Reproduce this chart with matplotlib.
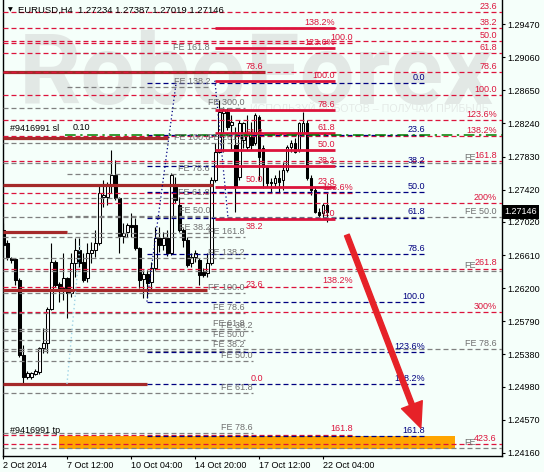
import matplotlib
matplotlib.use("Agg")
import matplotlib.pyplot as plt
from matplotlib.patches import Rectangle

plt.rcParams['font.family'] = ['Liberation Sans', 'DejaVu Sans']

# EURUSD H4 candles
opens = [1.2692, 1.2676, 1.2657, 1.2656, 1.2630, 1.2537, 1.2510, 1.2510, 1.2514, 1.2516,
         1.2546, 1.2552, 1.2594, 1.2652, 1.2625, 1.2620, 1.2633, 1.2614, 1.2651, 1.2667,
         1.2652, 1.2633, 1.2664, 1.2667, 1.2676, 1.2733, 1.2733, 1.2748, 1.2760, 1.2732,
         1.2685, 1.2690, 1.2698, 1.2698, 1.2670, 1.2631, 1.2637, 1.2628, 1.2645, 1.2682,
         1.2673, 1.2682, 1.2664, 1.2745, 1.2723, 1.2692, 1.2680, 1.2651, 1.2659, 1.2655,
         1.2640, 1.2639, 1.2651, 1.2754, 1.2789, 1.2837, 1.2838, 1.2822, 1.2797, 1.2758,
         1.2804, 1.2795, 1.2807, 1.2800, 1.2832, 1.2794, 1.2770, 1.2752, 1.2750, 1.2757,
         1.2754, 1.2766, 1.2795, 1.2800, 1.2791, 1.2812, 1.2825, 1.2757, 1.2742, 1.2714,
         1.2713, 1.27234]
highs = [1.2701, 1.2680, 1.2659, 1.2657, 1.2633, 1.2550, 1.2517, 1.2516, 1.2520, 1.2547,
         1.2571, 1.2596, 1.2676, 1.2655, 1.2628, 1.2663, 1.2634, 1.2663, 1.2682, 1.2682,
         1.2663, 1.2676, 1.2677, 1.2692, 1.2748, 1.2754, 1.2752, 1.2791, 1.2779, 1.2733,
         1.2701, 1.2701, 1.2713, 1.2707, 1.2671, 1.2642, 1.2642, 1.2652, 1.2696, 1.2696,
         1.2690, 1.2692, 1.2763, 1.2758, 1.2733, 1.2694, 1.2683, 1.2663, 1.2667, 1.2657,
         1.2645, 1.2664, 1.2758, 1.2800, 1.2853, 1.2844, 1.2843, 1.2834, 1.2820, 1.2828,
         1.2826, 1.2834, 1.2826, 1.2837, 1.2834, 1.2797, 1.2773, 1.2757, 1.2760, 1.2766,
         1.2776, 1.2797, 1.2804, 1.2806, 1.2826, 1.2838, 1.2828, 1.2760, 1.2745, 1.2719,
         1.2725, 1.27387]
lows = [1.2667, 1.2655, 1.2651, 1.2624, 1.2535, 1.2500, 1.2507, 1.2507, 1.2512, 1.2514,
        1.2540, 1.2540, 1.2593, 1.2621, 1.2603, 1.2605, 1.2583, 1.2609, 1.2634, 1.2646,
        1.2628, 1.2628, 1.2651, 1.2659, 1.2673, 1.2721, 1.2723, 1.2738, 1.2729, 1.2664,
        1.2676, 1.2683, 1.2683, 1.2667, 1.2620, 1.2608, 1.2608, 1.2618, 1.2643, 1.2665,
        1.2667, 1.2660, 1.2661, 1.2726, 1.2690, 1.2671, 1.2646, 1.2646, 1.2652, 1.2624,
        1.2634, 1.2634, 1.2649, 1.2752, 1.2787, 1.2789, 1.2816, 1.2791, 1.2714, 1.2754,
        1.2794, 1.2791, 1.2791, 1.2797, 1.2754, 1.2744, 1.2745, 1.2738, 1.2745, 1.2738,
        1.2742, 1.2764, 1.2789, 1.2787, 1.2789, 1.2810, 1.2754, 1.2735, 1.2713, 1.2708,
        1.2707, 1.27019]
closes = [1.2673, 1.2659, 1.2655, 1.2630, 1.2537, 1.2510, 1.2515, 1.2515, 1.2517, 1.2546,
          1.2552, 1.2594, 1.2652, 1.2624, 1.2620, 1.2633, 1.2614, 1.2651, 1.2667, 1.2651,
          1.2630, 1.2664, 1.2667, 1.2676, 1.2738, 1.2735, 1.2748, 1.2760, 1.2732, 1.2685,
          1.2688, 1.2698, 1.2696, 1.2670, 1.2630, 1.2637, 1.2626, 1.2645, 1.2682, 1.2673,
          1.2682, 1.2664, 1.2760, 1.2729, 1.2692, 1.2680, 1.2649, 1.2659, 1.2664, 1.2636,
          1.2636, 1.2651, 1.2754, 1.2789, 1.2838, 1.2841, 1.2820, 1.2826, 1.2745, 1.2825,
          1.2825, 1.2812, 1.2797, 1.2834, 1.2782, 1.2770, 1.2750, 1.2750, 1.2757, 1.2752,
          1.2766, 1.2795, 1.2800, 1.2789, 1.2825, 1.2825, 1.2757, 1.2742, 1.2714, 1.2711,
          1.2723, 1.27146]

date_ticks = [0, 16, 32, 48, 64, 80]
date_labels = ["2 Oct 2014", "7 Oct 12:00", "10 Oct 04:00", "14 Oct 20:00",
               "17 Oct 12:00", "22 Oct 04:00"]
price_ticks = [1.29470, 1.29060, 1.28650, 1.28240, 1.27830, 1.27420, 1.27020,
               1.26610, 1.26200, 1.25790, 1.25380, 1.24980, 1.24570, 1.24160]

# crimson dashed fibo across the whole chart
fibo_a = [1.29625, 1.29427, 1.29266, 1.29110, 1.28882, 1.28593, 1.28277, 1.28079,
          1.27769, 1.27249, 1.26443, 1.25904, 1.24269]
fibo_a_txt = ["23.6", "38.2", "50.0", "61.8", "78.6", "100.0", "123.6%", "138.2%",
              "161.8", "200%", "261.8", "300%", "423.6"]
# gray FE levels on the right side
fe_right = [1.27755, 1.27081, 1.26412, 1.25446, 1.24219]
fe_right_txt = ["FE", "FE 50.0", "FE", "FE 78.6", "FE"]
# crimson dashed, second set
fibo_g = [1.29241, 1.27382, 1.26220, 1.24386]
fibo_g_txt = ["100.0", "123.6%", "138.2%", "161.8"]
# crimson solid, short retracement
fibo_c = [1.29427, 1.29175, 1.28770, 1.28403, 1.28116, 1.27912, 1.27713, 1.27453, 1.27057]
fibo_c_txt = ["138.2%", "123.6%", "100.0", "78.6", "61.8", "50.0", "38.2", "23.6", "0.0"]
# navy dashed retracement
fibo_d = [1.28745, 1.28101, 1.27713, 1.27391, 1.27075, 1.26617, 1.26032, 1.25403,
          1.25007, 1.24368]
fibo_d_txt = ["0.0", "23.6", "38.2", "50.0", "61.8", "78.6", "100.0", "123.6%",
              "138.2%", "161.8"]
# dark red solid levels
fibo_b = [1.28878, 1.28060, 1.27472, 1.26892, 1.26173, 1.25012]
fibo_b_txt = ["78.6", "61.8", "50.0", "38.2", "23.6", "0.0"]
fibo_b_end = [65.4, 41.2, 52.4, 15.9, 50.9, 35.9]
# gray FE expansions
fe_1 = [1.29113, 1.28688, 1.27998, 1.27608, 1.27311, 1.27094, 1.26883]
fe_1_txt = ["FE 161.8", "FE 138.2", "FE 100.0", "FE 78.6", "FE 61.8", "FE 50.0", "FE 38.2"]
fe_2 = [1.28436, 1.27998, 1.26834, 1.26573, 1.26140, 1.25896, 1.25694, 1.25557, 1.25427]
fe_2_txt = ["FE 300,0", "FE 261.8", "FE 161.8", "FE 138.2", "FE 100.0", "FE 78.6",
            "FE 61.8", "FE 50.0", "FE 38.2"]
fe_4 = [1.25669, 1.25297, 1.24901, 1.24399]
fe_4_txt = ["FE 38.2", "FE 50.0", "FE 61.8", "FE 78.6"]

order_price = 1.28101
tp_zone = (1.24201, 1.24362)

BG = '#f5fffa'
CRIMSON = '#dc143c'
DARKRED = '#a52a2a'
NAVY = '#000080'
GRAY = '#808080'
DASH = (0, (4, 2.4))
FS = 6.5
XL, XR = -0.1, 124.7

fig = plt.figure(figsize=(5.44, 4.72), dpi=100, facecolor=BG)
ax = fig.add_axes([3 / 544, 16 / 472, 499 / 544, 456 / 472])
ax.set_facecolor(BG)
ax.set_xlim(XL, XR)
ax.set_ylim(1.24120, 1.29770)

# watermark
wm = ax.text(0.508, 0.772, 'RoboForex', transform=ax.transAxes, ha='center',
             va='baseline', fontsize=70, fontweight='bold', family='Roboto',
             color='#e2e8e5', zorder=0.5)
sub = ax.text(0.735, 0.762, 'ИСПОЛЬЗУЙ РОБОТОВ – ПОЛУЧАЙ ПРИБЫЛЬ', transform=ax.transAxes,
              ha='center', va='center', fontsize=8, color='#e4eae7', zorder=0.6)
fig.canvas.draw()
wm.set_fontsize(70 * 475 / wm.get_window_extent().width)
sub.set_fontsize(8 * 238 / sub.get_window_extent().width)

# candles
for i, (o, h, l, c) in enumerate(zip(opens, highs, lows, closes)):
    ax.vlines(i, l, h, color='black', lw=0.8, zorder=2)
    lo, hi = min(o, c), max(o, c)
    if hi - lo < 0.00004:
        hi = lo + 0.00004
    ax.add_patch(Rectangle((i - 0.3, lo), 0.6, hi - lo, lw=0.75, edgecolor='black',
                           facecolor='white' if c >= o else 'black', zorder=2.1))


def levels(prices, texts, x0, x1, color, ls, lw, tcolor=None, tx=None, z=3):
    if not isinstance(x1, list):
        x1 = [x1] * len(prices)
    for p, t, e in zip(prices, texts, x1):
        ax.plot([x0, e], [p, p], color=color, ls=ls, lw=lw, zorder=z,
                solid_capstyle='butt')
        if t:
            ax.annotate(t, (tx if tx is not None else e, p), xytext=(0, 0.8),
                        textcoords='offset points', ha='right', va='bottom',
                        fontsize=FS, color=tcolor or color, zorder=6)


levels(fe_2, fe_2_txt, XL, 60.4, GRAY, DASH, 0.9, '#707070')
levels(fe_4, fe_4_txt, XL, 62.4, GRAY, DASH, 0.9, '#707070')
levels(fe_1, fe_1_txt, 15.9, 51.7, GRAY, DASH, 0.9, '#707070')
for p, t in zip(fe_right, fe_right_txt):
    ax.plot([XL, XR], [p, p], color=GRAY, ls=DASH, lw=0.9, zorder=3)
    ax.annotate(t, (123.4 if len(t) > 2 else 118.2, p), xytext=(0, 0.8),
                textcoords='offset points', ha='right', va='bottom', fontsize=FS,
                color='#707070', zorder=6)
levels(fibo_b, fibo_b_txt, XL, fibo_b_end, DARKRED, '-', 2.3, CRIMSON, tx=64.9, z=3.1)
levels(fibo_a, fibo_a_txt, XL, XR, CRIMSON, DASH, 0.9, tx=123.4, z=3.2)
levels(fibo_g, fibo_g_txt, XL, 87.4, CRIMSON, DASH, 0.9, z=3.2)
levels(fibo_d, fibo_d_txt, 35.9, 105.4, NAVY, DASH, 0.9, z=3.4)
levels(fibo_c, fibo_c_txt, 52.9, 82.9, CRIMSON, '-', 2.0, z=3.5)

# trend lines of the fibo tools
ax.plot([35.9, 43.2], [1.26032, 1.28745], color=NAVY, ls=(0, (1, 2)), lw=0.9, zorder=3.4)
ax.plot([52.9, 56.2], [1.28770, 1.27057], color=NAVY, ls=(0, (1, 2)), lw=0.9, zorder=3.4)
ax.plot([15.9, 19.2], [1.25012, 1.26759], color='#9fd3e6', ls=(0, (1, 2)), lw=1.0, zorder=3.4)

# order line and take-profit zone
ax.plot([15.4, XR], [order_price, order_price], color='#008000', lw=1.1,
        ls=(0, (7, 3, 1.5, 3)), zorder=3.6)
ax.add_patch(Rectangle((13.9, tp_zone[0]), 112.9 - 13.9, tp_zone[1] - tp_zone[0],
                       facecolor='#ffa500', edgecolor='none', zorder=2.5))
ax.text(1.7, 1.28184, '#9416991 sl', fontsize=FS, va='center', ha='left', zorder=6)
ax.text(17.2, 1.28196, '0.10', fontsize=FS, va='center', ha='left', zorder=6)
ax.text(1.7, 1.24430, '#9416991 tp', fontsize=FS, va='center', ha='left', zorder=6)

# forecast arrow
ax.annotate('', xy=(104.4, 1.24467), xytext=(85.9, 1.26858),
            arrowprops=dict(arrowstyle='simple,head_length=0.9,head_width=0.8,tail_width=0.18',
                            mutation_scale=20, color='#e62228', shrinkA=0, shrinkB=0),
            zorder=7)

# axes
for s in ['left', 'right', 'bottom']:
    ax.spines[s].set_color('black')
    ax.spines[s].set_linewidth(1.0)
ax.spines['top'].set_visible(False)
ax.yaxis.tick_right()
ax.set_yticks(price_ticks)
ax.set_yticklabels(['%.5f' % v for v in price_ticks])
ax.set_xticks(date_ticks)
ax.set_xticklabels(date_labels)
for lbl in ax.get_xticklabels():
    lbl.set_ha('left')
ax.tick_params(axis='y', direction='out', length=2.5, width=0.8, labelsize=FS, pad=1.5)
ax.tick_params(axis='x', direction='out', length=2.5, width=0.8, labelsize=FS, pad=1)

# current price box
ax.annotate('%.5f' % closes[-1], xy=(1, closes[-1]), xycoords=('axes fraction', 'data'),
            xytext=(1.8, 0), textcoords='offset points', ha='left', va='center',
            fontsize=FS, color='white', annotation_clip=False, zorder=10,
            bbox=dict(boxstyle='square,pad=0.25', fc='black', ec='none'))

# title
fig.text(10 / 544, 1 - 10 / 472, '▼', fontsize=4.5, family='DejaVu Sans', va='center',
         ha='center', zorder=10)
fig.text(18 / 544, 1 - 10 / 472, 'EURUSD,H4  1.27234 1.27387 1.27019 1.27146',
         fontsize=6.8, va='center', ha='left', zorder=10)

fig.savefig('out.png', dpi=100, facecolor=BG)
